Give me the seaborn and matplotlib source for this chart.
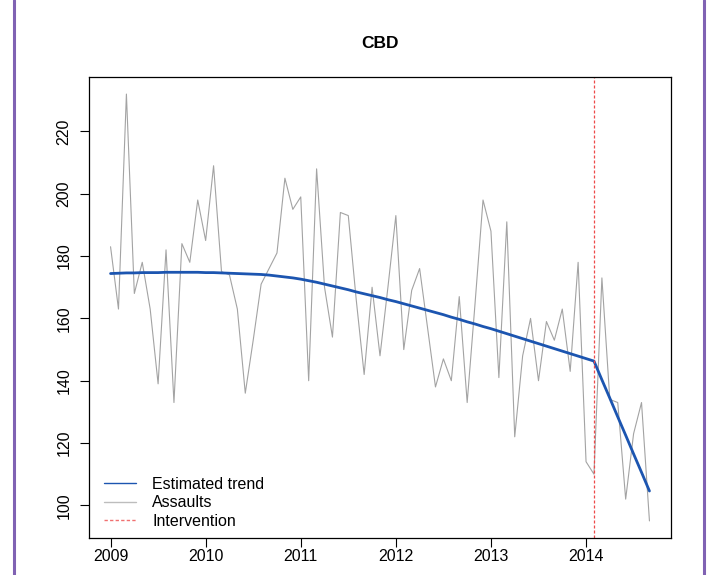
import numpy as np
import pandas as pd
import matplotlib
matplotlib.use("Agg")
import matplotlib.pyplot as plt
from matplotlib.lines import Line2D
import seaborn as sns

# Monthly assaults in the CBD, Jan 2009 .. Sep 2014
assaults = [183, 163, 232, 168, 178, 163, 139, 182, 133, 184, 178, 198,
            185, 209, 175, 174, 163, 136, 153, 171, 176, 181, 205, 195,
            199, 140, 208, 170, 154, 194, 193, 166, 142, 170, 148, 170,
            193, 150, 169, 176, 157, 138, 147, 140, 167, 133, 165, 198,
            188, 141, 191, 122, 148, 160, 140, 159, 153, 163, 143, 178,
            114, 110, 173, 134, 133, 102, 123, 133, 95]

# Estimated trend (segmented model), same months
trend = [174.4, 174.5, 174.6, 174.6, 174.7, 174.7, 174.7, 174.8, 174.8, 174.8, 174.8, 174.8,
         174.7, 174.7, 174.6, 174.5, 174.4, 174.3, 174.2, 174.1, 173.9, 173.6, 173.3, 173.0,
         172.6, 172.1, 171.6, 171.0, 170.4, 169.8, 169.2, 168.5, 167.9, 167.3, 166.7, 166.0,
         165.4, 164.7, 164.0, 163.3, 162.6, 161.9, 161.2, 160.4, 159.7, 158.9, 158.2, 157.4,
         156.7, 155.9, 155.1, 154.3, 153.5, 152.7, 151.9, 151.1, 150.3, 149.5, 148.7, 147.9,
         147.1, 146.3, 140.3, 134.4, 128.4, 122.5, 116.5, 110.6, 104.6]

start_year = 2009
intervention = 2014 + 1 / 12  # Feb 2014

x_ticks = [2009, 2010, 2011, 2012, 2013, 2014]
y_ticks = [100, 120, 140, 160, 180, 200, 220]
legend_labels = ["Estimated trend", "Assaults", "Intervention"]

df = pd.DataFrame({
    "time": start_year + np.arange(len(assaults)) / 12,
    "assaults": assaults,
    "trend": trend,
})

sns.set_style("white")
plt.rcParams["font.family"] = ["Liberation Sans", "DejaVu Sans"]
plt.rcParams["text.color"] = "black"
plt.rcParams["xtick.color"] = "black"
plt.rcParams["ytick.color"] = "black"

fig = plt.figure(figsize=(7.12, 5.75), dpi=100)
ax = fig.add_axes([89 / 712, 37 / 575, 582 / 712, 461 / 575])

grey = "#a3a3a3"
blue = "#1c55b0"
red = "#ee4a4a"

sns.lineplot(data=df, x="time", y="assaults", ax=ax, color=grey, linewidth=0.8)
sns.lineplot(data=df, x="time", y="trend", ax=ax, color=blue, linewidth=2.0)
ax.axvline(intervention, color=red, linewidth=0.9, linestyle=(0, (2.4, 1.6)))

# R-style 4% padding
t0, t1 = df["time"].min(), df["time"].max()
pad_x = 0.04 * (t1 - t0)
ax.set_xlim(t0 - pad_x, t1 + pad_x)
y0, y1 = min(assaults), max(assaults)
pad_y = 0.04 * (y1 - y0)
ax.set_ylim(y0 - pad_y, y1 + pad_y)

ax.set_xticks(x_ticks)
ax.set_xticklabels([str(v) for v in x_ticks])
ax.set_yticks(y_ticks)
ax.set_yticklabels([str(v) for v in y_ticks], rotation=90, va="center")
ax.set_xlabel("")
ax.set_ylabel("")
ax.tick_params(axis="both", direction="out", length=6.5, width=0.8,
               color="black", labelsize=11.5, labelcolor="black")
ax.tick_params(axis="x", pad=1.5, bottom=True)
ax.tick_params(axis="y", pad=6, left=True)
for s in ax.spines.values():
    s.set_visible(True)
    s.set_color("black")
    s.set_linewidth(0.9)

ax.set_title("CBD", fontsize=12.5, fontweight="bold", pad=21, color="black")

handles = [
    Line2D([0, 1], [0, 0], color=blue, linewidth=1.0),
    Line2D([0, 1], [0, 0], color="#bdbdbd", linewidth=1.0),
    Line2D([0, 1], [0, 0], color="#f07070", linewidth=1.0, linestyle=(0, (2.4, 1.6))),
]
leg = ax.legend(handles, legend_labels,
                loc="lower left", bbox_to_anchor=(0.026, 0.02), frameon=False,
                fontsize=11.5, borderpad=0, borderaxespad=0, handlelength=2.0,
                handletextpad=1.0, labelspacing=0.22)
for t in leg.get_texts():
    t.set_color("black")

# purple frame of the slide around the plot
purple = "#8062b3"
fig.add_artist(Line2D([13.5 / 712, 13.5 / 712], [0, 1], color=purple, linewidth=2.2))
fig.add_artist(Line2D([703.5 / 712, 703.5 / 712], [0, 1], color=purple, linewidth=2.2))

fig.savefig("out.png", dpi=100)
